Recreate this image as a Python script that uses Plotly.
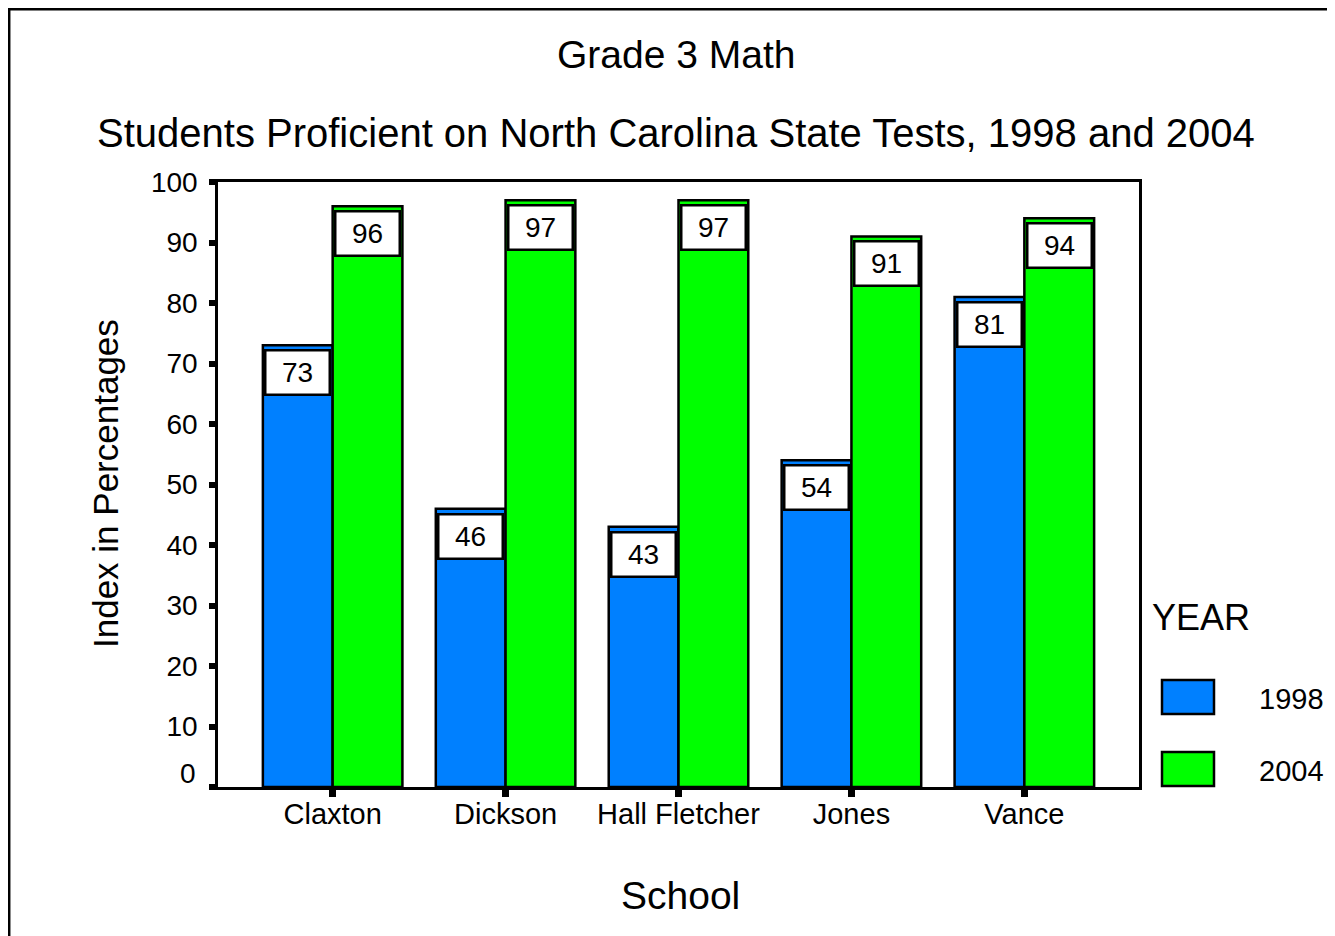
import plotly.graph_objects as go

schools = ["Claxton", "Dickson", "Hall Fletcher", "Jones", "Vance"]
years = ["1998", "2004"]
values_1998 = [73, 46, 43, 54, 81]
values_2004 = [96, 97, 97, 91, 94]
colors = ["#0080FF", "#00FF00"]
y_ticks = [0, 10, 20, 30, 40, 50, 60, 70, 80, 90, 100]

series = [values_1998, values_2004]
FONT = "Liberation Sans, Arial, sans-serif"

# the page body has an 8px margin; the figure is sized to fit in the window
OFF = 8
W, H = 1335 - OFF, 936 - OFF
# plot area in screen pixels of the target picture
SL, SR, ST, SB = 218, 1139, 182, 787
L, R, T, B = SL - OFF, SR - OFF, ST - OFF, SB - OFF
PW, PH = R - L, B - T

def px_x(p):
    return (p - OFF - L) / PW

def px_y(p):
    return (B - (p - OFF)) / PH

bargap = 0.193
fig = go.Figure()
for name, vals, col in zip(years, series, colors):
    fig.add_trace(go.Bar(
        x=list(range(len(schools))), y=vals, name=name,
        marker=dict(color=col, line=dict(color="black", width=2.5)),
        showlegend=False, hoverinfo="x+y",
    ))

bw = (1 - bargap) / len(years)
annotations = []
for k, vals in enumerate(series):
    off = (k - (len(years) - 1) / 2) * bw
    for i, v in enumerate(vals):
        annotations.append(dict(
            x=i + off, y=v, xref="x", yref="y", text=str(v), showarrow=False,
            xanchor="center", yanchor="top", yshift=-4,
            width=60, height=40, borderpad=1, borderwidth=2.5,
            bordercolor="black", bgcolor="white",
            font=dict(family=FONT, size=28, color="black"),
        ))

# zero label shifted above the axis line
annotations.append(dict(x=0, y=0, xref="paper", yref="y", text="0", showarrow=False,
                        xanchor="right", yanchor="middle", xshift=-20, yshift=14,
                        font=dict(family=FONT, size=28, color="black")))

# titles
annotations += [
    dict(x=px_x(676), y=px_y(55), xref="paper", yref="paper", text="Grade 3 Math",
         showarrow=False, xanchor="center", yanchor="middle",
         font=dict(family=FONT, size=39, color="black")),
    dict(x=px_x(676), y=px_y(133), xref="paper", yref="paper",
         text="Students Proficient on North Carolina State Tests, 1998 and 2004",
         showarrow=False, xanchor="center", yanchor="middle",
         font=dict(family=FONT, size=40, color="black")),
    dict(x=px_x(680), y=px_y(896), xref="paper", yref="paper", text="School",
         showarrow=False, xanchor="center", yanchor="middle",
         font=dict(family=FONT, size=39, color="black")),
    dict(x=px_x(105), y=px_y(484), xref="paper", yref="paper", text="Index in Percentages",
         showarrow=False, xanchor="center", yanchor="middle", textangle=-90,
         font=dict(family=FONT, size=35, color="black")),
    dict(x=px_x(1150), y=px_y(617), xref="paper", yref="paper", text="YEAR",
         showarrow=False, xanchor="left", yanchor="middle",
         font=dict(family=FONT, size=36, color="black")),
]

shapes = []
# legend swatches
sw_tops = [680, 752]
for name, col, top in zip(years, colors, sw_tops):
    shapes.append(dict(type="rect", xref="paper", yref="paper",
                       x0=px_x(1162), x1=px_x(1214), y0=px_y(top + 34), y1=px_y(top),
                       fillcolor=col, line=dict(color="black", width=2.5)))
    annotations.append(dict(x=px_x(1257), y=px_y(top + 19), xref="paper", yref="paper",
                            text=name, showarrow=False, xanchor="left", yanchor="middle",
                            font=dict(family=FONT, size=29, color="black")))

# outer frame (right and bottom edges lie outside the picture)
shapes.append(dict(type="rect", xref="paper", yref="paper",
                   x0=px_x(OFF + 1.2), x1=px_x(1335 + 30), y0=px_y(936 + 30), y1=px_y(OFF + 1.2),
                   line=dict(color="black", width=2.5), fillcolor="rgba(0,0,0,0)", layer="below"))

fig.update_layout(
    width=W, height=H,
    margin=dict(l=L, r=W - R, t=T, b=H - B, pad=0),
    paper_bgcolor="white", plot_bgcolor="white",
    barmode="group", bargap=bargap, bargroupgap=0,
    annotations=annotations, shapes=shapes,
    font=dict(family=FONT, color="black"),
)
fig.update_xaxes(
    range=[-0.663, len(schools) - 1 + 0.663],
    tickmode="array", tickvals=list(range(len(schools))), ticktext=schools,
    ticks="outside", ticklen=7, tickwidth=7, tickcolor="black",
    showline=True, linecolor="black", linewidth=2.5, mirror=True,
    showgrid=False, zeroline=False, ticklabelstandoff=-8,
    tickfont=dict(family=FONT, size=29, color="black"),
)
fig.update_yaxes(
    range=[0, 100],
    tickmode="array", tickvals=y_ticks,
    ticktext=["" if t == 0 else str(t) for t in y_ticks],
    ticks="outside", ticklen=6, tickwidth=6, tickcolor="black",
    showline=True, linecolor="black", linewidth=2.5, mirror=True,
    showgrid=False, zeroline=False, ticklabelstandoff=6,
    tickfont=dict(family=FONT, size=28, color="black"),
)

fig.write_html("out.html")
